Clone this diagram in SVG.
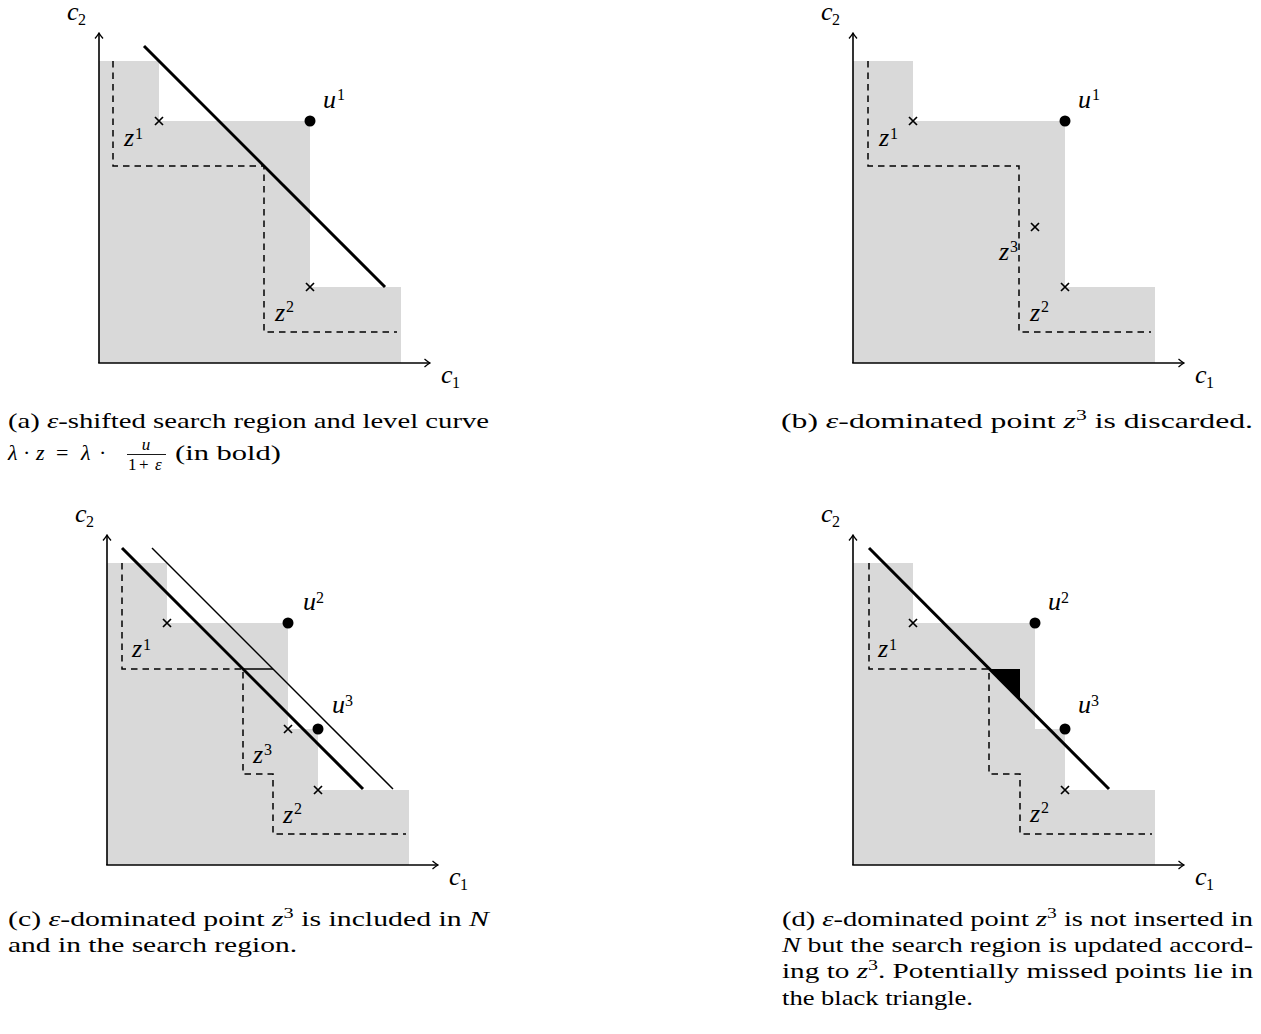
<svg xmlns="http://www.w3.org/2000/svg" xmlns:xlink="http://www.w3.org/1999/xlink" width="1261" height="1034" viewBox="0 0 1261 1034">
<style>
.gr{fill:#d9d9d9;stroke:none}
.ax{stroke:#000;stroke-width:1.6;fill:none}
.da{stroke:#000;stroke-width:1.5;stroke-dasharray:6.5 5;fill:none}
.bo{stroke:#000;stroke-width:3;fill:none}
.th{stroke:#000;stroke-width:1.5;fill:none}
.cr{stroke:#000;stroke-width:1.7;fill:none}
.m{font-family:"Liberation Serif","Times New Roman",Times,serif;font-style:italic;font-size:26px;fill:#000}
.s{font-family:"Liberation Serif","Times New Roman",Times,serif;font-size:16px;fill:#000}
.cap{font-family:"Liberation Serif","Times New Roman",Times,serif;font-size:22px;fill:#000}
.fr{font-family:"Liberation Serif","Times New Roman",Times,serif;font-size:17px;fill:#000}
.i{font-style:italic}
</style>
<defs>
<marker id="arr" viewBox="-7 -5 8 10" refX="0" refY="0" markerWidth="8" markerHeight="10" markerUnits="userSpaceOnUse" orient="auto">
<path d="M-5.5,-4 Q-2,-1 0,0 Q-2,1 -5.5,4" fill="none" stroke="#000" stroke-width="1.3"/>
</marker>
<path id="x" d="M-4,-4 L4,4 M-4,4 L4,-4" class="cr"/>
<g id="axes">
<line class="ax" x1="99" y1="363" x2="99" y2="33" marker-end="url(#arr)"/>
<line class="ax" x1="98.2" y1="363" x2="430" y2="363" marker-end="url(#arr)"/>
<text class="m" x="67" y="20">c</text><text class="s" x="78" y="25">2</text>
<text class="m" x="441" y="383">c</text><text class="s" x="452" y="388">1</text>
</g>
</defs>

<g id="panel-a">
<polygon class="gr" points="99,61 159,61 159,121 310,121 310,287 401,287 401,363 99,363"/>
<use xlink:href="#axes"/>
<path class="da" d="M113,61 V166 H264 V332 H397"/>
<line class="bo" x1="144" y1="46" x2="385" y2="287"/>
<use xlink:href="#x" x="159" y="121"/>
<use xlink:href="#x" x="310" y="287"/>
<circle cx="310" cy="121" r="5.5"/>
<text class="m" x="323" y="108">u</text><text class="s" x="337" y="100">1</text>
<text class="m" x="124" y="146">z</text><text class="s" x="135" y="139">1</text>
<text class="m" x="275" y="321">z</text><text class="s" x="286" y="312">2</text>
</g>

<g id="panel-b" transform="translate(754,0)">
<polygon class="gr" points="99,61 159,61 159,121 311,121 311,287 401,287 401,363 99,363"/>
<use xlink:href="#axes"/>
<path class="da" d="M114,61 V166 H265 V332 H397"/>
<use xlink:href="#x" x="159" y="121"/>
<use xlink:href="#x" x="281" y="227"/>
<use xlink:href="#x" x="311" y="287"/>
<circle cx="311" cy="121" r="5.5"/>
<text class="m" x="324" y="108">u</text><text class="s" x="338" y="100">1</text>
<text class="m" x="245" y="260">z</text><text class="s" x="256" y="252">3</text>
<text class="m" x="125" y="146">z</text><text class="s" x="136" y="139">1</text>
<text class="m" x="276" y="321">z</text><text class="s" x="287" y="312">2</text>
</g>

<g id="panel-c" transform="translate(8,502)">
<polygon class="gr" points="99,61 159,61 159,121 280,121 280,227 310,227 310,288 401,288 401,363 99,363"/>
<use xlink:href="#axes"/>
<path class="da" d="M114,61 V167 H235 V272 H265 V332 H398"/>
<line class="th" x1="235" y1="167" x2="265" y2="167"/>
<line class="bo" x1="114" y1="46" x2="355" y2="287"/>
<line class="th" x1="144" y1="46" x2="385" y2="287"/>
<use xlink:href="#x" x="159" y="121"/>
<use xlink:href="#x" x="280" y="227"/>
<use xlink:href="#x" x="310" y="288"/>
<circle cx="280" cy="121" r="5.5"/>
<circle cx="310" cy="227" r="5.5"/>
<text class="m" x="295" y="108">u</text><text class="s" x="308" y="101">2</text>
<text class="m" x="324" y="211">u</text><text class="s" x="337" y="204">3</text>
<text class="m" x="124" y="155">z</text><text class="s" x="135" y="148">1</text>
<text class="m" x="245" y="261">z</text><text class="s" x="256" y="253">3</text>
<text class="m" x="275" y="321">z</text><text class="s" x="286" y="312">2</text>
</g>

<g id="panel-d" transform="translate(754,502)">
<polygon class="gr" points="99,61 159,61 159,121 281,121 281,227 311,227 311,288 401,288 401,363 99,363"/>
<use xlink:href="#axes"/>
<path class="da" d="M115,61 V167 H235 V272 H266 V332 H398"/>
<polygon points="235,167 266,167 266,198" fill="#000"/>
<line class="bo" x1="115" y1="46" x2="355" y2="287"/>
<use xlink:href="#x" x="159" y="121"/>
<use xlink:href="#x" x="311" y="288"/>
<circle cx="281" cy="121" r="5.5"/>
<circle cx="311" cy="227" r="5.5"/>
<text class="m" x="294" y="108">u</text><text class="s" x="307" y="101">2</text>
<text class="m" x="324" y="211">u</text><text class="s" x="337" y="204">3</text>
<text class="m" x="124" y="155">z</text><text class="s" x="135" y="148">1</text>
<text class="m" x="276" y="320">z</text><text class="s" x="287" y="311">2</text>
</g>

<g id="captions">
<text class="cap" x="8" y="428" textLength="481" lengthAdjust="spacingAndGlyphs">(a) <tspan class="i">ε</tspan>-shifted search region and level curve</text>
<text class="cap" y="460"><tspan x="8" class="i">λ</tspan><tspan x="23">·</tspan><tspan x="36" class="i">z</tspan><tspan x="56">=</tspan><tspan x="81" class="i">λ</tspan><tspan x="99">·</tspan></text>
<text class="fr i" x="146" y="450" text-anchor="middle">u</text>
<line x1="127" y1="454.5" x2="166" y2="454.5" stroke="#000" stroke-width="0.9"/>
<text class="fr" y="470"><tspan x="128">1</tspan><tspan x="139">+</tspan><tspan x="155" class="i">ε</tspan></text>
<text class="cap" x="175" y="460" textLength="106" lengthAdjust="spacingAndGlyphs">(in bold)</text>

<text class="cap" x="781" y="428" textLength="472" lengthAdjust="spacingAndGlyphs">(b) <tspan class="i">ε</tspan>-dominated point <tspan class="i">z</tspan><tspan font-size="15" dy="-8">3</tspan><tspan dy="8"> is discarded.</tspan></text>

<text class="cap" x="8" y="926" textLength="481" lengthAdjust="spacingAndGlyphs">(c) <tspan class="i">ε</tspan>-dominated point <tspan class="i">z</tspan><tspan font-size="15" dy="-8">3</tspan><tspan dy="8"> is included in </tspan><tspan class="i">N</tspan></text>
<text class="cap" x="8" y="952" textLength="289" lengthAdjust="spacingAndGlyphs">and in the search region.</text>

<text class="cap" x="782" y="926" textLength="471" lengthAdjust="spacingAndGlyphs">(d) <tspan class="i">ε</tspan>-dominated point <tspan class="i">z</tspan><tspan font-size="15" dy="-8">3</tspan><tspan dy="8"> is not inserted in</tspan></text>
<text class="cap" x="782" y="952" textLength="471" lengthAdjust="spacingAndGlyphs"><tspan class="i">N</tspan> but the search region is updated accord-</text>
<text class="cap" x="782" y="978" textLength="471" lengthAdjust="spacingAndGlyphs">ing to <tspan class="i">z</tspan><tspan font-size="15" dy="-8">3</tspan><tspan dy="8">. Potentially missed points lie in</tspan></text>
<text class="cap" x="782" y="1005" textLength="191" lengthAdjust="spacingAndGlyphs">the black triangle.</text>
</g>
</svg>
